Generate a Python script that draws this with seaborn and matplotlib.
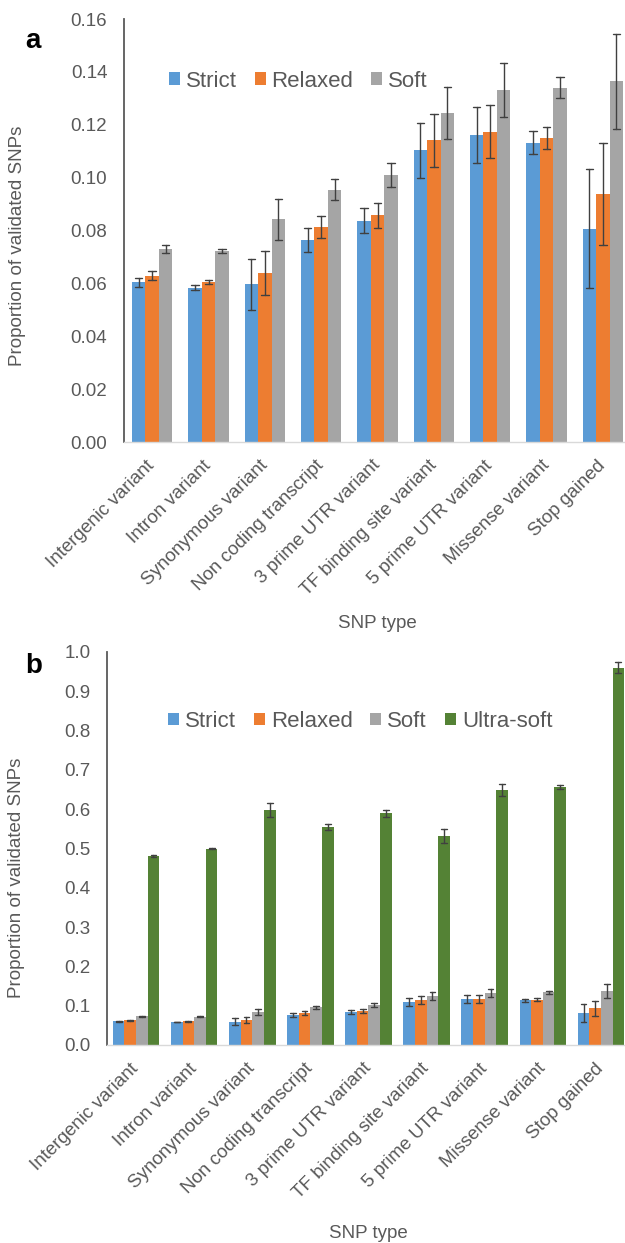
import numpy as np
import pandas as pd
import matplotlib
matplotlib.use("Agg")
import matplotlib.pyplot as plt
from matplotlib.ticker import FormatStrFormatter
import seaborn as sns

# ---------------- data ----------------
categories = ["Intergenic variant", "Intron variant", "Synonymous variant",
              "Non coding transcript", "3 prime UTR variant",
              "TF binding site variant", "5 prime UTR variant",
              "Missense variant", "Stop gained"]
series_a = ["Strict", "Relaxed", "Soft"]
series_b = ["Strict", "Relaxed", "Soft", "Ultra-soft"]

strict = [0.0604, 0.0584, 0.0596, 0.0764, 0.0837, 0.1103, 0.1162, 0.1132, 0.0807]
strict_err = [0.0018, 0.0009, 0.0095, 0.0044, 0.0048, 0.0105, 0.0106, 0.0044, 0.0224]
relaxed = [0.0628, 0.0605, 0.0640, 0.0814, 0.0857, 0.1142, 0.1174, 0.1151, 0.0938]
relaxed_err = [0.0017, 0.0008, 0.0084, 0.0041, 0.0047, 0.0100, 0.0100, 0.0042, 0.0192]
soft = [0.0730, 0.0722, 0.0842, 0.0955, 0.1011, 0.1243, 0.1331, 0.1340, 0.1364]
soft_err = [0.0016, 0.0007, 0.0078, 0.0039, 0.0045, 0.0098, 0.0102, 0.0040, 0.0179]
ultra_soft = [0.481, 0.499, 0.597, 0.554, 0.590, 0.531, 0.649, 0.656, 0.960]
ultra_soft_err = [0.002, 0.001, 0.018, 0.007, 0.009, 0.018, 0.016, 0.005, 0.014]

yticks_a = [0.00, 0.02, 0.04, 0.06, 0.08, 0.10, 0.12, 0.14, 0.16]
yticks_b = [0.0, 0.1, 0.2, 0.3, 0.4, 0.5, 0.6, 0.7, 0.8, 0.9, 1.0]

colors = {"Strict": "#5B9BD5", "Relaxed": "#ED7D31", "Soft": "#A5A5A5",
          "Ultra-soft": "#548235"}

values = {"Strict": (strict, strict_err), "Relaxed": (relaxed, relaxed_err),
          "Soft": (soft, soft_err), "Ultra-soft": (ultra_soft, ultra_soft_err)}


def long_table(series):
    rows = []
    for s in series:
        v, e = values[s]
        for c, vv, ee in zip(categories, v, e):
            rows.append({"SNP type": c, "series": s, "value": vv - ee})
            rows.append({"SNP type": c, "series": s, "value": vv + ee})
    return pd.DataFrame(rows)


# ---------------- style ----------------
sns.set_style("white")
plt.rcParams["font.family"] = ["Liberation Sans", "DejaVu Sans"]
TXT = "#595959"

fig = plt.figure(figsize=(6.25, 12.43), dpi=100)

panels = [
    dict(series=series_a, rect=[0.1984, 0.6444, 0.8112, 0.3403], width=0.72,
         ylim=(0, 0.16), yticks=yticks_a, fmt="%.2f",
         leg=(0.088, 0.853), ncol=3, ylab_x=-0.193, ylab_y=0.465,
         xlab_y=-0.408, label="a", label_pos=(25, 48)),
    dict(series=series_b, rect=[0.1712, 0.1593, 0.8368, 0.3162], width=0.80,
         ylim=(0, 1.0), yticks=yticks_b, fmt="%.1f",
         leg=(0.116, 0.823), ncol=4, ylab_x=-0.157, ylab_y=0.425,
         xlab_y=-0.458, label="b", label_pos=(25, 673)),
]

for p in panels:
    ax = fig.add_axes(p["rect"])
    df = long_table(p["series"])
    sns.barplot(data=df, x="SNP type", y="value", hue="series",
                order=categories, hue_order=p["series"],
                palette=[colors[s] for s in p["series"]],
                estimator="mean", errorbar=lambda v: (v.min(), v.max()),
                capsize=0.4, err_kws={"color": "#404040", "linewidth": 1.0},
                width=p["width"], gap=0, saturation=1, linewidth=0, ax=ax)
    ax.set_xlim(-0.5, len(categories) - 0.5)
    ax.set_ylim(*p["ylim"])
    ax.set_yticks(p["yticks"])
    ax.yaxis.set_major_formatter(FormatStrFormatter(p["fmt"]))
    ax.tick_params(axis="both", length=0, labelsize=13.5, colors=TXT)
    ax.tick_params(axis="y", pad=12)
    ax.tick_params(axis="x", pad=15)
    ax.set_xticks(range(len(categories)))
    ax.set_xticklabels(categories, rotation=45, ha="right", va="center",
                       rotation_mode="anchor")
    for s in ["top", "right"]:
        ax.spines[s].set_visible(False)
    ax.spines["left"].set_color("#595959")
    ax.spines["left"].set_linewidth(1.3)
    ax.spines["bottom"].set_color("#D9D9D9")
    ax.spines["bottom"].set_linewidth(1.0)

    ax.set_ylabel("Proportion of validated SNPs", fontsize=13.5, color=TXT)
    ax.yaxis.set_label_coords(p["ylab_x"], p["ylab_y"])
    ax.set_xlabel("SNP type", fontsize=13.5, color=TXT)
    ax.xaxis.set_label_coords(0.5, p["xlab_y"])

    handles, labels = ax.get_legend_handles_labels()
    ax.legend(handles, labels, loc="center left", bbox_to_anchor=p["leg"],
              ncol=p["ncol"], frameon=False, fontsize=16, labelcolor=TXT,
              handlelength=0.5, handleheight=0.5, handletextpad=0.27,
              columnspacing=0.8, borderpad=0, borderaxespad=0)

    fig.text(p["label_pos"][0] / 625, 1 - p["label_pos"][1] / 1243, p["label"],
             fontsize=20, fontweight="bold", color="black", ha="left",
             va="baseline")

fig.savefig("out.png", dpi=100)
